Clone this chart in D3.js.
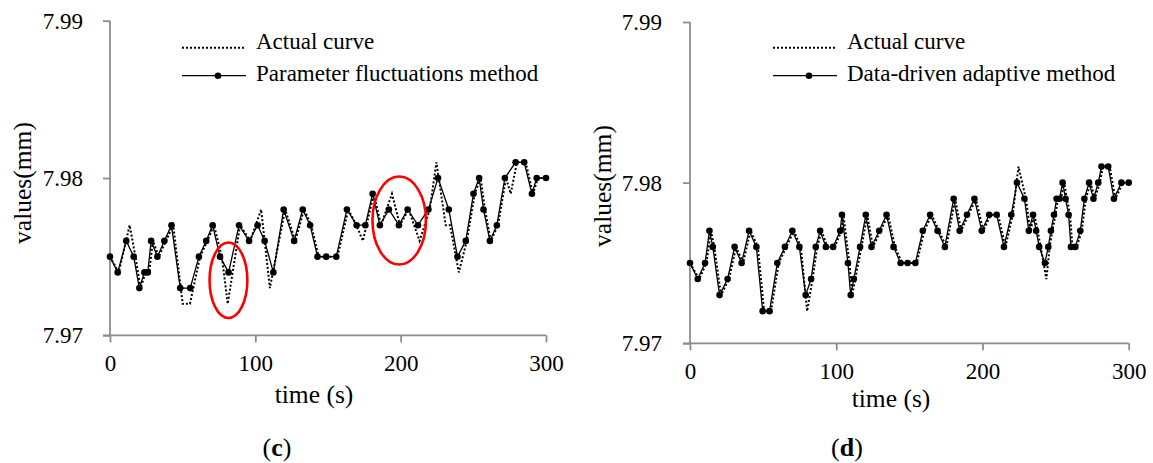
<!DOCTYPE html>
<html><head><meta charset="utf-8">
<script src="https://cdn.jsdelivr.net/npm/d3@7"></script>
<style>html,body{margin:0;padding:0;background:#fff;}svg{display:block;}</style>
</head><body>
<svg id="chart" width="1153" height="463"></svg>
<script>
// ---------- DATA ----------
const xTicks = [0, 100, 200, 300];
const yTicks = [7.97, 7.98, 7.99];

// Panel (c)
const leftMethodTime = [0, 5.3, 11.2, 16.3, 20.2, 23.7, 26.0, 28.3, 32.6, 37.4, 42.3, 48.3, 55.2, 61.2, 66.2, 70.6, 75.7, 81.6, 88.8, 95.7, 101.6, 106.4, 112.4, 119.5, 126.7, 132.6, 137.7, 142.8, 148.8, 155.7, 163.0, 169.7, 175.7, 180.7, 185.7, 191.9, 198.8, 204.8, 211.9, 219.1, 225.7, 233.1, 239.1, 244.8, 250.1, 254.0, 257.0, 261.4, 266.2, 271.7, 279.1, 285.0, 290.3, 293.6, 300];
const leftMethod = [7.975, 7.974, 7.976, 7.975, 7.973, 7.974, 7.974, 7.976, 7.975, 7.976, 7.977, 7.973, 7.973, 7.975, 7.976, 7.977, 7.975, 7.974, 7.977, 7.976, 7.977, 7.976, 7.974, 7.978, 7.976, 7.978, 7.977, 7.975, 7.975, 7.975, 7.978, 7.977, 7.977, 7.979, 7.977, 7.978, 7.977, 7.978, 7.977, 7.978, 7.980, 7.978, 7.975, 7.976, 7.979, 7.980, 7.978, 7.976, 7.977, 7.980, 7.981, 7.981, 7.979, 7.980, 7.980];
const leftActualTime = [0, 6, 13.5, 17.5, 21, 24.5, 27, 29.5, 33.5, 38.5, 43.5, 50, 55, 62, 67, 71.5, 77, 81, 89.5, 96.5, 104, 110, 120.5, 127.5, 133.5, 138.5, 143.5, 149.5, 156.5, 164, 169.5, 174, 181.5, 186.5, 194, 199.5, 205.5, 213, 220, 224.6, 231, 234, 240, 245.5, 251, 255, 258, 262, 267, 272.5, 275.7, 280, 286, 291, 294.5, 300];
const leftActual = [7.975, 7.974, 7.977, 7.975, 7.973, 7.974, 7.974, 7.976, 7.975, 7.976, 7.977, 7.972, 7.972, 7.975, 7.976, 7.977, 7.975, 7.972, 7.977, 7.976, 7.978, 7.973, 7.978, 7.976, 7.978, 7.977, 7.975, 7.975, 7.975, 7.978, 7.977, 7.976, 7.979, 7.977, 7.979, 7.977, 7.978, 7.976, 7.978, 7.981, 7.977, 7.977, 7.974, 7.976, 7.979, 7.980, 7.978, 7.976, 7.977, 7.980, 7.979, 7.981, 7.981, 7.979, 7.980, 7.980];

// Panel (d)
const rightMethodTime = [0, 5.3, 10.3, 13.3, 15.6, 20.2, 25.7, 30.5, 35.3, 40.4, 45.4, 49.7, 54.4, 59.7, 64.9, 70.0, 74.8, 79.1, 82.8, 86.0, 89.0, 92.9, 97.9, 102.7, 103.9, 108.0, 109.9, 112.0, 116.3, 120.2, 124.1, 129.4, 134.4, 139.2, 144.0, 148.8, 154.1, 159.2, 164.2, 169.3, 174.3, 180.3, 184.4, 189.4, 194.5, 199.5, 204.6, 209.7, 214.7, 219.7, 223.6, 228.7, 231.7, 234.6, 236.7, 238.8, 242.7, 245.0, 246.8, 248.9, 250.7, 252.7, 254.8, 256.8, 258.9, 260.5, 263.5, 266.9, 269.7, 272.9, 275.9, 279.2, 281.4, 286.0, 289.9, 295.0, 300];
const rightMethod = [7.975, 7.974, 7.975, 7.977, 7.976, 7.973, 7.974, 7.976, 7.975, 7.977, 7.976, 7.972, 7.972, 7.975, 7.976, 7.977, 7.976, 7.973, 7.974, 7.976, 7.977, 7.976, 7.976, 7.977, 7.978, 7.975, 7.973, 7.974, 7.976, 7.978, 7.976, 7.977, 7.978, 7.976, 7.975, 7.975, 7.975, 7.977, 7.978, 7.977, 7.976, 7.979, 7.977, 7.978, 7.979, 7.977, 7.978, 7.978, 7.976, 7.978, 7.980, 7.979, 7.977, 7.978, 7.977, 7.976, 7.975, 7.976, 7.977, 7.978, 7.979, 7.979, 7.980, 7.979, 7.978, 7.976, 7.976, 7.977, 7.979, 7.980, 7.979, 7.980, 7.981, 7.981, 7.979, 7.980, 7.980];
const rightActualTime = [0, 6.3, 11.3, 14.3, 16.6, 21.2, 26.7, 31.5, 36.3, 41.4, 46.4, 50.7, 55.4, 60.7, 65.9, 71.0, 75.8, 80.1, 83.8, 87.0, 90.0, 93.9, 98.9, 103.7, 104.9, 109.0, 110.9, 113.0, 117.3, 121.2, 125.1, 130.4, 135.4, 140.2, 145.0, 149.8, 155.1, 160.2, 165.2, 170.3, 175.3, 181.3, 185.4, 190.4, 195.5, 200.5, 205.6, 210.7, 215.7, 220.7, 224.6, 229.7, 232.7, 235.6, 237.7, 239.8, 243.7, 246.0, 247.8, 249.9, 251.7, 253.7, 255.8, 257.8, 259.9, 261.5, 264.5, 267.9, 270.7, 273.9, 276.9, 280.2, 282.4, 287.0, 290.9, 296.0, 300];
const rightActual = [7.975, 7.974, 7.975, 7.977, 7.976, 7.973, 7.974, 7.976, 7.975, 7.977, 7.976, 7.972, 7.972, 7.975, 7.976, 7.977, 7.976, 7.972, 7.974, 7.976, 7.977, 7.976, 7.976, 7.977, 7.978, 7.975, 7.973, 7.974, 7.976, 7.978, 7.976, 7.977, 7.978, 7.976, 7.975, 7.975, 7.975, 7.977, 7.978, 7.977, 7.976, 7.979, 7.977, 7.978, 7.979, 7.977, 7.978, 7.978, 7.976, 7.978, 7.981, 7.979, 7.977, 7.978, 7.977, 7.976, 7.974, 7.976, 7.977, 7.978, 7.979, 7.979, 7.980, 7.979, 7.978, 7.976, 7.976, 7.977, 7.979, 7.980, 7.979, 7.980, 7.981, 7.981, 7.979, 7.980, 7.980];

const legendActual = "Actual curve";
const legendLeft = "Parameter fluctuations method";
const legendRight = "Data-driven adaptive method";
const xTitle = "time (s)";
const yTitle = "values(mm)";

// Highlight ellipses on panel (c): centre time/value and half-extents
const highlightTime = [81.5, 199];
const highlightValue = [7.9735, 7.9773];
const highlightHalfT = [13, 18.4];
const highlightHalfV = [0.0024, 0.0028];

// ---------- DRAW ----------
const svg = d3.select("#chart");
const FONT = "'Liberation Serif','Times New Roman',serif";
const AXIS = "#8a8a8a";

const panels = [
  {x0: 110, x1: 546, yTop: 20.7, yBot: 335.3, mt: leftMethodTime, mv: leftMethod, at: leftActualTime, av: leftActual,
   legend: legendLeft, legX: 182, yTitleX: 31, yTitleY: 183, tickRight: 83, xTitleX: 314, xTitleY: 403, capX: 277, cap: "c", ellipses: true},
  {x0: 690, x1: 1128.7, yTop: 22, yBot: 343.3, mt: rightMethodTime, mv: rightMethod, at: rightActualTime, av: rightActual,
   legend: legendRight, legX: 773, yTitleX: 611, yTitleY: 186, tickRight: 662, xTitleX: 891, xTitleY: 407, capX: 847, cap: "d", ellipses: false}
];

panels.forEach(p => {
  const g = svg.append("g");
  const x = d3.scaleLinear().domain([0, 300]).range([p.x0, p.x1]);
  const y = d3.scaleLinear().domain([7.97, 7.99]).range([p.yBot, p.yTop]);

  const ya = g.append("g").attr("transform", `translate(${p.x0},0)`)
    .call(d3.axisLeft(y).tickValues(yTicks).tickSize(7).tickPadding(p.x0 - 7 - p.tickRight).tickFormat(d3.format(".2f")));
  const xa = g.append("g").attr("transform", `translate(0,${p.yBot})`)
    .call(d3.axisBottom(x).tickValues(xTicks).tickSize(7).tickPadding(12).tickSizeOuter(0));
  [ya, xa].forEach(a => {
    a.select(".domain").attr("stroke", AXIS).attr("stroke-width", 1.75);
    a.selectAll(".tick line").attr("stroke", AXIS).attr("stroke-width", 1.75);
    a.selectAll("text").attr("fill", "#000").style("font-family", FONT).style("font-size", "23px");
  });
  ya.select(".domain").attr("d", `M0,${p.yTop}V${p.yBot}`);
  xa.select(".domain").attr("d", `M${p.x0 - 7},0H${p.x1}`);

  const actualPts = p.at.map((t, i) => [t, p.av[i]]);
  const methodPts = p.mt.map((t, i) => [t, p.mv[i]]);
  const line = d3.line().x(d => x(d[0])).y(d => y(d[1]));
  g.append("path").attr("d", line(actualPts)).attr("fill", "none").attr("stroke", "#000")
    .attr("stroke-width", 2).attr("stroke-dasharray", "2 2");
  g.append("path").attr("d", line(methodPts)).attr("fill", "none").attr("stroke", "#000")
    .attr("stroke-width", 1.3);
  g.selectAll("circle.pt").data(methodPts).enter().append("circle").attr("class", "pt")
    .attr("cx", d => x(d[0])).attr("cy", d => y(d[1])).attr("r", 3.3).attr("fill", "#000");

  if (p.ellipses) {
    highlightTime.forEach((t, i) => {
      g.append("ellipse")
        .attr("cx", x(t)).attr("cy", y(highlightValue[i]))
        .attr("rx", x(highlightHalfT[i]) - x(0)).attr("ry", y(7.97) - y(7.97 + highlightHalfV[i]))
        .attr("fill", "none").attr("stroke", "#ff0000").attr("stroke-width", 2.6);
    });
  }

  const lg = g.append("g");
  lg.append("line").attr("x1", p.legX).attr("x2", p.legX + 64).attr("y1", 47.7).attr("y2", 47.7)
    .attr("stroke", "#000").attr("stroke-width", 2).attr("stroke-dasharray", "2 2");
  lg.append("text").attr("x", p.legX + 74).attr("y", 48.5).text(legendActual)
    .style("font-family", FONT).style("font-size", "23px");
  lg.append("line").attr("x1", p.legX).attr("x2", p.legX + 64).attr("y1", 75.7).attr("y2", 75.7)
    .attr("stroke", "#000").attr("stroke-width", 1.3);
  lg.append("circle").attr("cx", p.legX + 36).attr("cy", 75.7).attr("r", 3.3).attr("fill", "#000");
  lg.append("text").attr("x", p.legX + 74).attr("y", 80.5).text(p.legend)
    .style("font-family", FONT).style("font-size", "23px");

  g.append("text").attr("x", p.xTitleX).attr("y", p.xTitleY).attr("text-anchor", "middle").text(xTitle)
    .style("font-family", FONT).style("font-size", "25.5px");
  g.append("text").attr("transform", `translate(${p.yTitleX},${p.yTitleY}) rotate(-90)`)
    .attr("text-anchor", "middle").text(yTitle)
    .style("font-family", FONT).style("font-size", "25.5px");
  const cap = g.append("text").attr("x", p.capX).attr("y", 456).attr("text-anchor", "middle")
    .style("font-family", FONT).style("font-size", "26px");
  cap.append("tspan").text("(");
  cap.append("tspan").attr("font-weight", "bold").text(p.cap);
  cap.append("tspan").text(")");
});
</script>
</body></html>
